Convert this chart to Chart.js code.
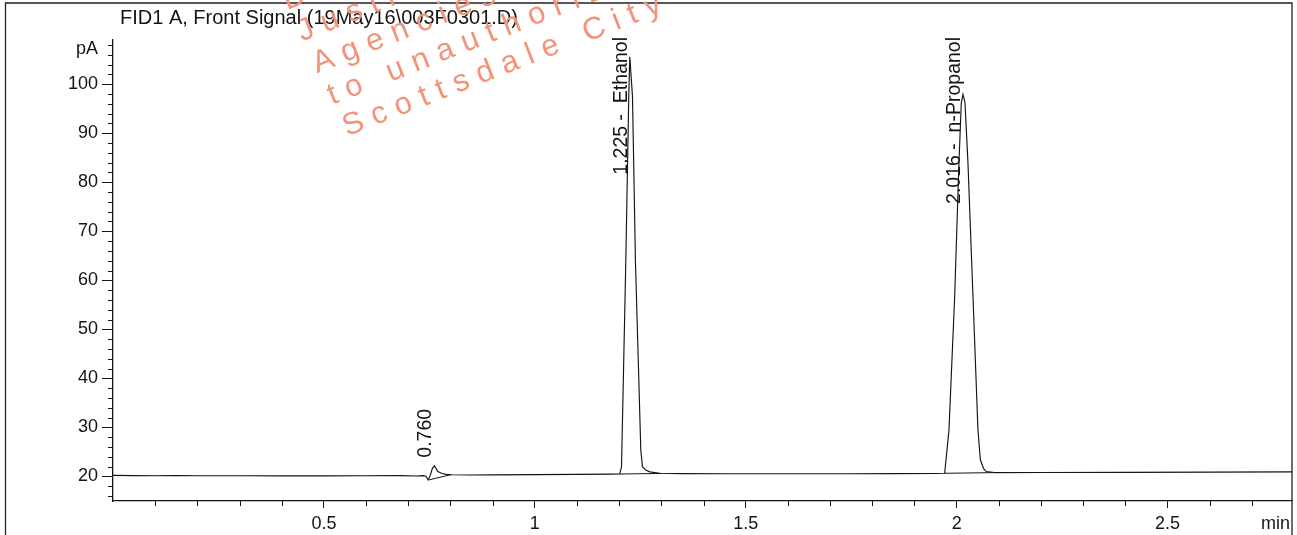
<!DOCTYPE html>
<html>
<head>
<meta charset="utf-8">
<script src="https://cdn.jsdelivr.net/npm/chart.js@4.4.1/dist/chart.umd.min.js"></script>
<style>
  html, body { margin: 0; padding: 0; background: #fff; }
  #c { display: block; }
</style>
</head>
<body>
<canvas id="c" width="1297" height="535"></canvas>
<script>
// ---------- DATA ----------
const chartTitle = "FID1 A, Front Signal (19May16\\003F0301.D)";
const yUnit = "pA";
const xUnit = "min";

// Detector trace: retention time (min) and signal (pA)
const traceTime = [
  0.000, 0.050, 0.100, 0.150, 0.200, 0.300, 0.400, 0.500, 0.600, 0.680,
  0.720, 0.735, 0.742, 0.747, 0.752, 0.757, 0.762, 0.766, 0.770, 0.780,
  0.790, 0.800, 0.850, 0.900, 1.000, 1.100, 1.180,
  1.2014, 1.2055, 1.2156, 1.2227, 1.2251, 1.2315, 1.2386, 1.2472, 1.2512, 1.2552,
  1.2630, 1.2725, 1.2960,
  1.350, 1.450, 1.550, 1.650, 1.750, 1.850, 1.950,
  1.9716, 1.9818, 1.9953, 2.0055, 2.0110, 2.0150, 2.0197, 2.0268, 2.0387, 2.0505,
  2.0562, 2.0640, 2.0703, 2.090,
  2.200, 2.400, 2.600, 2.795
];
const traceSignal = [
  20.22, 20.18, 20.15, 20.16, 20.14, 20.14, 20.13, 20.13, 20.14, 20.16,
  20.10, 20.18, 20.05, 19.30, 20.20, 21.60, 22.20, 21.60, 21.00, 20.60,
  20.42, 20.35, 20.30, 20.32, 20.38, 20.42, 20.48,
  20.50, 22.00, 63.60, 97.50, 105.60, 97.50, 63.60, 37.70, 25.40, 22.00,
  21.30, 20.95, 20.65,
  20.58, 20.55, 20.55, 20.56, 20.55, 20.58, 20.60,
  20.65, 29.50, 56.70, 84.00, 96.20, 97.90, 96.30, 84.00, 56.70, 29.50,
  23.40, 21.60, 21.00, 20.80,
  20.82, 20.85, 20.88, 20.95
];

// Integration baselines drawn under each peak
const baseStartTime = [0.7495, 1.2014, 1.9716];
const baseStartSignal = [19.32, 20.50, 20.65];
const baseEndTime = [0.8026, 1.3000, 2.0850];
const baseEndSignal = [20.40, 20.62, 20.78];

// Peak annotations
const peakTimes = [0.760, 1.225, 2.016];
const peakTops = [22.2, 105.6, 97.9];
const peakLabels = ["0.760", "1.225 -  Ethanol", "2.016 -  n-Propanol"];

// Axis ranges and tick labels
const xRange = [0, 2.795];
const yRange = [15, 109];
const xTickLabels = [0.5, 1, 1.5, 2, 2.5];
const yTickLabels = [20, 30, 40, 50, 60, 70, 80, 90, 100];

// Watermark lines
const watermarkLines = ["D", "Justices", "Agencies", "to unauthorized", "Scottsdale City"];

// ---------- CHART ----------
const FONT = '"Liberation Sans", Arial, sans-serif';
const INK = '#141414';

const datasets = [{
  data: traceTime.map((t, i) => ({ x: t, y: traceSignal[i] })),
  borderColor: INK, borderWidth: 1.15, pointRadius: 0, tension: 0, fill: false
}];
baseStartTime.forEach((t, i) => {
  datasets.push({
    data: [{ x: t, y: baseStartSignal[i] }, { x: baseEndTime[i], y: baseEndSignal[i] }],
    borderColor: INK, borderWidth: 1, pointRadius: 0, tension: 0, fill: false
  });
});

const decorPlugin = {
  id: 'decor',
  afterDraw(chart) {
    const ctx = chart.ctx;
    const xs = chart.scales.x, ys = chart.scales.y;
    const a = chart.chartArea;
    ctx.save();
    // outer frame
    ctx.strokeStyle = '#222';
    ctx.lineWidth = 1.3;
    ctx.beginPath();
    ctx.moveTo(5.5, 535); ctx.lineTo(5.5, 3); ctx.lineTo(a.right, 3); ctx.lineTo(a.right, 535);
    ctx.stroke();

    // minor ticks
    ctx.strokeStyle = INK;
    ctx.lineWidth = 1;
    ctx.beginPath();
    for (let v = 16; v <= 108; v += 2) {
      if (v % 10 === 0) continue;
      const py = Math.round(ys.getPixelForValue(v)) + 0.5;
      ctx.moveTo(a.left - 5, py); ctx.lineTo(a.left, py);
    }
    for (let k = 1; k <= 27; k++) {
      if (k % 5 === 0) continue;
      const px = Math.round(xs.getPixelForValue(k / 10)) + 0.5;
      ctx.moveTo(px, a.bottom); ctx.lineTo(px, a.bottom + 5);
    }
    ctx.stroke();

    // title and units
    ctx.fillStyle = INK;
    ctx.font = '20px ' + FONT;
    ctx.textAlign = 'left';
    ctx.textBaseline = 'alphabetic';
    ctx.fillText(chartTitle, 120, 24);
    ctx.font = '18px ' + FONT;
    ctx.textAlign = 'right';
    ctx.fillText(yUnit, 98, 54);
    ctx.fillText(xUnit, a.right - 2, 529);

    // peak labels (rotated)
    ctx.font = '19.5px ' + FONT;
    ctx.textAlign = 'left';
    peakTimes.forEach((t, i) => {
      const px = xs.getPixelForValue(t);
      const py = ys.getPixelForValue(peakTops[i]);
      const w = ctx.measureText(peakLabels[i]).width;
      let start = py - 8;
      if (start - w < a.top) start = a.top - 3 + w;
      ctx.save();
      ctx.translate(px - 3, start);
      ctx.rotate(-Math.PI / 2);
      ctx.fillText(peakLabels[i], 0, 0);
      ctx.restore();
    });

    // watermark
    ctx.fillStyle = '#f3937a';
    ctx.font = '31px ' + FONT;
    const ang = -21.5 * Math.PI / 180;
    const spacing = 9.5;
    watermarkLines.forEach((line, li) => {
      ctx.save();
      ctx.translate(287 + li * 15, 10 + li * 31.6);
      ctx.rotate(ang);
      let cx = 0;
      for (const ch of line) {
        ctx.fillText(ch, cx, 0);
        cx += ctx.measureText(ch).width + spacing;
      }
      ctx.restore();
    });
    ctx.restore();
  }
};

new Chart(document.getElementById('c'), {
  type: 'line',
  data: { datasets },
  options: {
    responsive: false,
    animation: false,
    devicePixelRatio: 1,
    layout: { padding: { top: 40, right: 5, left: 0, bottom: 0 } },
    plugins: { legend: { display: false }, tooltip: { enabled: false }, title: { display: false } },
    scales: {
      x: {
        type: 'linear', min: xRange[0], max: xRange[1],
        ticks: {
          stepSize: 0.5, autoSkip: false, maxRotation: 0, padding: 5,
          color: INK, font: { family: FONT, size: 18 },
          callback: v => String(v)
        },
        afterBuildTicks: s => { s.ticks = xTickLabels.map(v => ({ value: v })); },
        grid: { drawOnChartArea: false, tickLength: 7, color: INK, tickColor: INK, tickWidth: 1 },
        border: { color: INK, width: 1.3 },
        afterFit: s => { s.height = 34; }
      },
      y: {
        type: 'linear', min: yRange[0], max: yRange[1],
        ticks: {
          stepSize: 10, autoSkip: false, padding: 4,
          color: INK, font: { family: FONT, size: 18 },
          callback: v => String(v)
        },
        afterBuildTicks: s => { s.ticks = yTickLabels.map(v => ({ value: v })); },
        grid: { drawOnChartArea: false, tickLength: 11, color: INK, tickColor: INK, tickWidth: 1 },
        border: { color: INK, width: 1.3 },
        afterFit: s => { s.width = 113; }
      }
    }
  },
  plugins: [decorPlugin]
});
</script>
</body>
</html>
